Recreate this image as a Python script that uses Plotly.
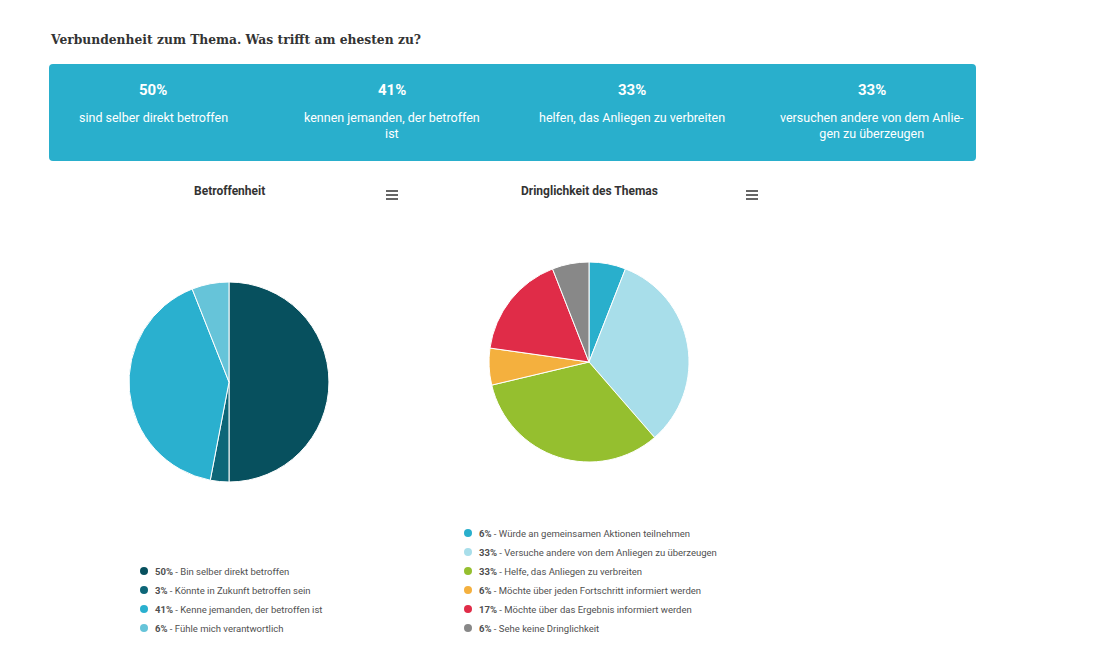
import plotly.graph_objects as go

W, H = 1105, 654
OFF = 8  # page body margin

title = "Verbundenheit zum Thema. Was trifft am ehesten zu?"

kpi_values = ["50%", "41%", "33%", "33%"]
kpi_texts = ["sind selber direkt betroffen",
             "kennen jemanden, der betroffen<br>ist",
             "helfen, das Anliegen zu verbreiten",
             "versuchen andere von dem Anlie-<br>gen zu überzeugen"]

pie1_title = "Betroffenheit"
pie1_labels = ["Bin selber direkt betroffen", "Könnte in Zukunft betroffen sein",
               "Kenne jemanden, der betroffen ist", "Fühle mich verantwortlich"]
pie1_values = [50, 3, 41, 6]
pie1_colors = ["#07505e", "#0d6678", "#2ab0cf", "#66c4d9"]

pie2_title = "Dringlichkeit des Themas"
pie2_labels = ["Würde an gemeinsamen Aktionen teilnehmen",
               "Versuche andere von dem Anliegen zu überzeugen",
               "Helfe, das Anliegen zu verbreiten",
               "Möchte über jeden Fortschritt informiert werden",
               "Möchte über das Ergebnis informiert werden",
               "Sehe keine Dringlichkeit"]
pie2_values = [6, 33, 33, 6, 17, 6]
pie2_colors = ["#29afcc", "#a8deea", "#95bf2f", "#f4b03e", "#e02c48", "#888888"]


def px(x):
    return (x - OFF) / W


def py(y):
    return 1 - (y - OFF) / H


fig = go.Figure()

fig.add_trace(go.Pie(
    labels=pie1_labels, values=pie1_values, sort=False, direction="clockwise",
    marker=dict(colors=pie1_colors, line=dict(color="white", width=1)),
    textinfo="none", hoverinfo="label+percent", showlegend=False,
    domain=dict(x=[px(129), px(329)], y=[py(482), py(282)])))

fig.add_trace(go.Pie(
    labels=pie2_labels, values=pie2_values, sort=False, direction="clockwise",
    marker=dict(colors=pie2_colors, line=dict(color="white", width=1)),
    textinfo="none", hoverinfo="label+percent", showlegend=False,
    domain=dict(x=[px(489), px(689)], y=[py(462), py(262)])))

shapes = []
annotations = []

# title
annotations.append(dict(x=px(48), y=py(40), xref="paper", yref="paper", text="<b>" + title + "</b>",
                        showarrow=False, xanchor="left", yanchor="middle",
                        font=dict(family="DejaVu Serif", size=12.3, color="#333333")))

# KPI box with rounded corners
bx0, bx1, by0, by1, r = px(49), px(976), py(64), py(161), 4
rx, ry = r / W, r / H
path = (f"M {bx0+rx},{by0} L {bx1-rx},{by0} Q {bx1},{by0} {bx1},{by0-ry} "
        f"L {bx1},{by1+ry} Q {bx1},{by1} {bx1-rx},{by1} "
        f"L {bx0+rx},{by1} Q {bx0},{by1} {bx0},{by1+ry} "
        f"L {bx0},{by0-ry} Q {bx0},{by0} {bx0+rx},{by0} Z")
shapes.append(dict(type="path", xref="paper", yref="paper", path=path,
                   fillcolor="#29afcc", line=dict(width=0), layer="below"))
kpi_centers = [153, 392, 632, 872]
for cx, v, t in zip(kpi_centers, kpi_values, kpi_texts):
    annotations.append(dict(x=px(cx), y=py(90), xref="paper", yref="paper", text="<b>" + v + "</b>",
                            showarrow=False, xanchor="center", yanchor="middle",
                            font=dict(family="Roboto", size=15, color="white")))
    annotations.append(dict(x=px(cx), y=py(108), xref="paper", yref="paper", text=t,
                            showarrow=False, xanchor="center", yanchor="top", align="center",
                            font=dict(family="Roboto", size=12.5, color="white")))

# chart titles and menu icons
for cx, t, mx in [(229, pie1_title, 392), (589, pie2_title, 752)]:
    annotations.append(dict(x=px(cx), y=py(191), xref="paper", yref="paper", text="<b>" + t + "</b>",
                            showarrow=False, xanchor="center", yanchor="middle",
                            font=dict(family="Roboto", size=12, color="#333333")))
    for ly in (191, 195, 199):
        shapes.append(dict(type="line", xref="paper", yref="paper", x0=px(mx - 6), x1=px(mx + 6),
                           y0=py(ly), y1=py(ly), line=dict(color="#666666", width=2)))


# legends
def legend(x0, y0, labels, values, colors):
    for i, (lab, val, col) in enumerate(zip(labels, values, colors)):
        yy = y0 + i * 19
        rr = 4
        shapes.append(dict(type="circle", xref="paper", yref="paper", x0=px(x0 - rr), x1=px(x0 + rr),
                           y0=py(yy + rr), y1=py(yy - rr), fillcolor=col, line=dict(width=0)))
        annotations.append(dict(x=px(x0 + 9), y=py(yy), xref="paper", yref="paper",
                                text=f"<b>{val}%</b> - {lab}", showarrow=False,
                                xanchor="left", yanchor="middle",
                                font=dict(family="Roboto", size=9.5, color="#505050")))


legend(144, 571, pie1_labels, pie1_values, pie1_colors)
legend(468, 533, pie2_labels, pie2_values, pie2_colors)

fig.update_layout(width=W, height=H, margin=dict(l=0, r=0, t=0, b=0),
                  paper_bgcolor="white", plot_bgcolor="white",
                  shapes=shapes, annotations=annotations)

fig.write_html("out.html")
